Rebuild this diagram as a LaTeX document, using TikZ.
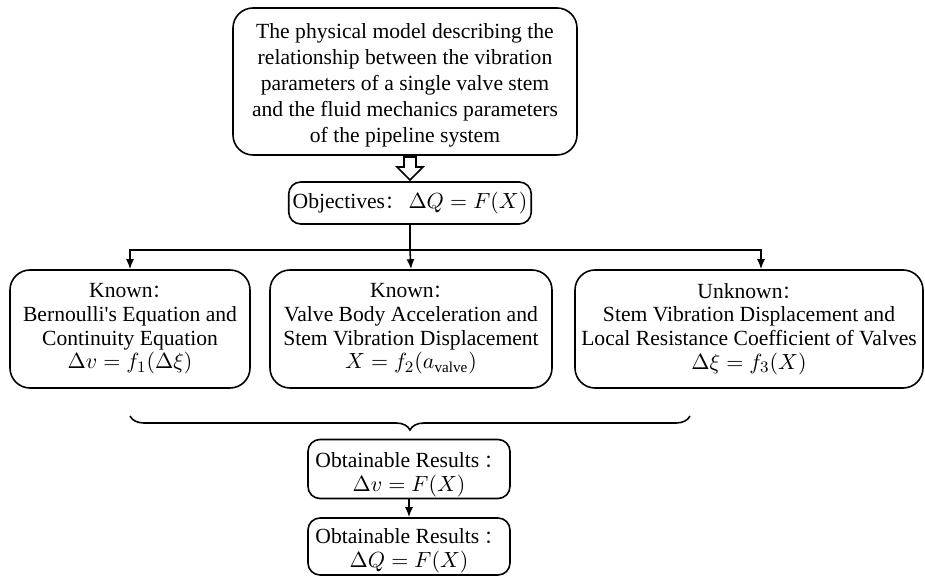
\documentclass[tikz,border=0pt]{standalone}
\usepackage{fontspec}
\setmainfont{Liberation Serif}
\newfontfamily\cjk{Noto Sans CJK SC}
\usepackage{amsmath}
\usetikzlibrary{positioning,arrows.meta,decorations.pathreplacing}
\newcommand{\fcolon}{{\cjk\fontsize{9}{9}\selectfont ：}}

\begin{document}
\begin{tikzpicture}[x=0.5pt, y=-0.5pt,
    box/.style={draw, thick, rounded corners=10pt, align=center,
      font=\fontsize{10.8}{11.8}\selectfont, inner sep=2pt},
    result/.style={box, rounded corners=6pt, minimum width=101pt, inner ysep=0pt},
    link/.style={thick, -{Latex[length=5pt,width=4pt]}}]
  \useasboundingbox (0,0) rectangle (925,576);
  \node [box, font=\fontsize{10.8}{13}\selectfont, minimum width=172pt, inner ysep=0pt,
    text height=67.5pt, text depth=6pt] (model) at (405,81.5)
    {The physical model describing the\\ relationship between the vibration\\
     parameters of a single valve stem\\ and the fluid mechanics parameters\\
     of the pipeline system};
  \node [box, rounded corners=6pt, minimum width=112pt, minimum height=21pt] (obj) at (410,203)
    {Objectives\fcolon\ $\Delta Q = F(X)$};
  % hollow arrow
  \draw [thick, fill=white] (404,157) -- (416,157) -- (416,167) -- (423,167)
    -- (410,180) -- (397,167) -- (404,167) -- cycle;
  \node [box, minimum width=120pt, minimum height=59pt] (bern) at (130,329)
    {Known\fcolon\\ Bernoulli\textquotesingle s Equation and\\ Continuity Equation\\ $\Delta v = f_1(\Delta\xi)$};
  \node [box, minimum width=141pt, minimum height=59pt] (valve) at (411,329)
    {Known\fcolon\\ Valve Body Acceleration and\\ Stem Vibration Displacement\\ $X = f_2(a_{\mathrm{valve}})$};
  \node [box, minimum width=174pt, minimum height=59pt] (stem) at (749,329)
    {Unknown\fcolon\\ Stem Vibration Displacement and\\ Local Resistance Coefficient of Valves\\ $\Delta\xi = f_3(X)$};
  \coordinate (split) at (410,250);
  \draw [thick] (obj.south) -- (split);
  \draw [link] (split) -| (bern.north);
  \draw [link] (split) -- (valve.north);
  \draw [link] (split) -| ([xshift=6pt]stem.north);
  % brace under the known boxes
  \coordinate (bl) at (130,416);
  \coordinate (br) at (690,416);
  \draw [thick, decorate, decoration={brace, mirror, amplitude=7pt}] (bl) -- (br);
  \node [result, text height=26pt, text depth=3.5pt] (res1) at (409,469)
    {Obtainable Results \fcolon\\ $\Delta v = F(X)$};
  \node [result, text height=24.5pt, text depth=4pt] (res2) at (409,546.5)
    {Obtainable Results \fcolon\\ $\Delta Q = F(X)$};
  \draw [link] (res1) -- (res2);
\end{tikzpicture}
\end{document}
